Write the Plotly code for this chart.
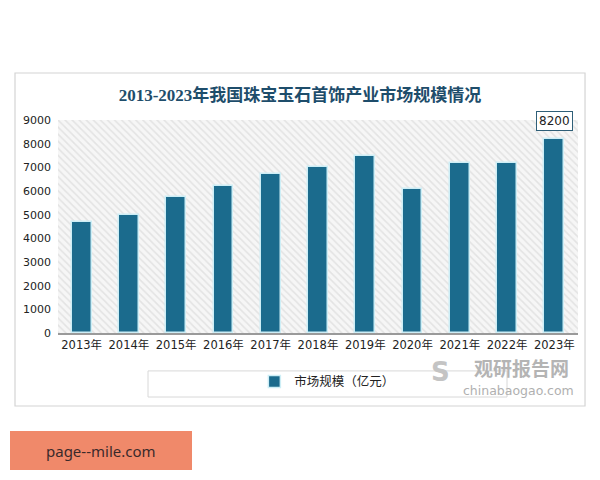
import plotly.graph_objects as go

years = ["2013年", "2014年", "2015年", "2016年", "2017年", "2018年",
         "2019年", "2020年", "2021年", "2022年", "2023年"]
market_size = [4700, 5000, 5750, 6200, 6700, 7000, 7500, 6100, 7200, 7200, 8200]
y_ticks = [0, 1000, 2000, 3000, 4000, 5000, 6000, 7000, 8000, 9000]
title_text = "2013-2023年我国珠宝玉石首饰产业市场规模情况"
series_name = "市场规模（亿元）"

bar_color = "#1b6b8d"
title_color = "#1e4d6b"

fig = go.Figure()

# hatched plot-area background
fig.add_trace(go.Bar(
    x=years, y=[max(y_ticks)] * len(years), width=1.0,
    marker=dict(color="#ffffff", line=dict(width=0),
                pattern=dict(shape="\\", fgcolor="#cfcfcf", bgcolor="#f6f6f6",
                             size=5, solidity=0.3)),
    showlegend=False, hoverinfo="skip",
))

fig.add_trace(go.Bar(
    x=years, y=market_size, width=0.42, name=series_name,
    marker=dict(color=bar_color, line=dict(color="#cdeef6", width=1.5)),
))

fig.update_layout(
    width=600, height=480,
    margin=dict(l=58, r=22, t=120, b=147),
    paper_bgcolor="white", plot_bgcolor="white",
    barmode="overlay", bargap=0,
    font=dict(family="DejaVu Sans, Noto Sans CJK SC", color="#333333"),
    title=dict(text="<b>" + title_text + "</b>", x=0.5, xanchor="center",
               y=1 - 95 / 480, yanchor="middle",
               font=dict(family="Liberation Serif, Noto Sans CJK SC", size=17,
                         color=title_color)),
    showlegend=True,
    legend=dict(orientation="h", x=0.518, xanchor="center", y=-0.23,
                yanchor="middle", bgcolor="rgba(0,0,0,0)", itemwidth=30,
                font=dict(family="Noto Sans CJK SC", size=12.5, color="#222222")),
    xaxis=dict(showgrid=False, showline=True, linecolor="#9a9a9a", linewidth=2,
               ticks="", tickfont=dict(family="DejaVu Sans, Noto Sans CJK SC",
                                       size=11.5, color="#222222"),
               range=[-0.5, 10.5], fixedrange=True),
    yaxis=dict(range=[0, 9000], tickvals=y_ticks, showgrid=False, zeroline=False,
               ticks="", tickfont=dict(size=11, color="#222222"), ticklabelstandoff=6),
)

shapes = [
    # outer frame
    dict(type="rect", xref="paper", yref="paper", x0=-0.0827, x1=1.0135,
         y0=-0.3427, y1=1.2207, line=dict(color="#d4d4d4", width=1.2),
         fillcolor="rgba(0,0,0,0)", layer="below"),
    # legend box
    dict(type="rect", xref="paper", yref="paper", x0=0.1731, x1=0.8635,
         y0=-0.3005, y1=-0.178, line=dict(color="#d8d8d8", width=1),
         fillcolor="rgba(0,0,0,0)"),
    # orange box
    dict(type="rect", xref="paper", yref="paper", x0=-0.0923, x1=0.2577,
         y0=-0.643, y1=-0.460, line=dict(width=0), fillcolor="#f0896a"),
]
fig.update_layout(shapes=shapes)

annotations = [
    dict(x=years[-1], y=market_size[-1], text=str(market_size[-1]), showarrow=False,
         yanchor="bottom", yshift=8, bgcolor="white", bordercolor="#2f5f78",
         borderwidth=1, borderpad=2, font=dict(size=12, color="#222222")),
    dict(xref="paper", yref="paper", x=(521 - 58) / 520, y=(333 - 367) / 213,
         text="<b>观研报告网</b>", showarrow=False, xanchor="center", yanchor="middle",
         font=dict(family="Noto Sans CJK SC", size=19, color="#b4b4b4")),
    dict(xref="paper", yref="paper", x=(518 - 58) / 520, y=(333 - 390) / 213,
         text="chinabaogao.com", showarrow=False, xanchor="center", yanchor="middle",
         font=dict(family="DejaVu Sans", size=12.5, color="#b0b0b0")),
    dict(xref="paper", yref="paper", x=(440 - 58) / 520, y=(333 - 372) / 213,
         text="<b>S</b>", showarrow=False, xanchor="center", yanchor="middle",
         font=dict(family="DejaVu Sans", size=26, color="#c4c4c4")),
    dict(xref="paper", yref="paper", x=(101 - 58) / 520, y=(333 - 451) / 213,
         text="page--mile.com", showarrow=False, xanchor="center", yanchor="middle",
         font=dict(family="Noto Sans", size=15, color="#3a2a2a")),
]
fig.update_layout(annotations=annotations)

fig.write_html("out.html")
